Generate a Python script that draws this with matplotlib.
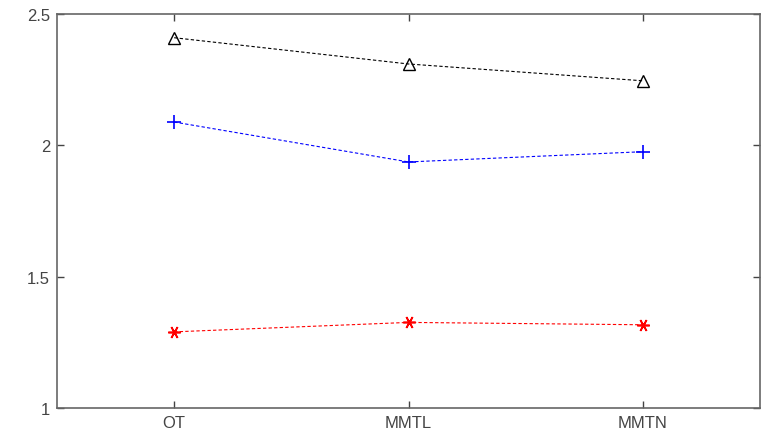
import matplotlib
matplotlib.use('Agg')
import matplotlib.pyplot as plt

categories = ['OT', 'MMTL', 'MMTN']
series_black = [2.41, 2.31, 2.246]
series_blue = [2.089, 1.937, 1.976]
series_red = [1.29, 1.326, 1.317]

plt.rcParams['font.family'] = ['Liberation Sans', 'DejaVu Sans']

fig = plt.figure(figsize=(7.62, 4.31), dpi=100)
ax = fig.add_axes([0.0748, 0.051, 0.9226, 0.914])

x = list(range(1, len(categories) + 1))
ax.plot(x, series_black, '--', color='black', lw=0.8, marker='^',
        markerfacecolor='none', markeredgecolor='black', markersize=8, dashes=(3, 2))
ax.plot(x, series_blue, '--', color='blue', lw=0.8, marker='+',
        markersize=10, markeredgewidth=1.2, dashes=(3, 2))
ax.plot(x, series_red, '--', color='red', lw=0.8, marker=(6, 2, 90),
        markersize=9, markeredgewidth=1.2, dashes=(3, 2))

ax.set_xlim(0.5, 3.5)
ax.set_ylim(1, 2.5)
ax.set_xticks(x)
ax.set_xticklabels(categories)
ax.set_yticks([1, 1.5, 2, 2.5])
ax.set_yticklabels(['1', '1.5', '2', '2.5'])
ax.tick_params(direction='in', top=True, right=True, length=5, width=1,
               labelsize=12, colors='#444444', pad=5)
for s in ax.spines.values():
    s.set_color('#666666')
    s.set_linewidth(1.2)

fig.savefig('out.png', dpi=100)
